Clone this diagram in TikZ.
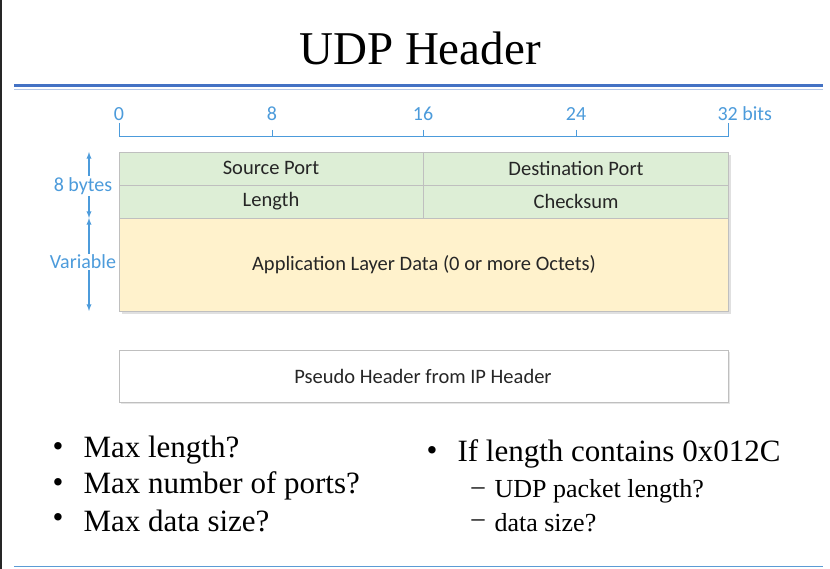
\documentclass[tikz,border=0pt]{standalone}
\usepackage{fontspec}
\setmainfont{Liberation Serif}
\newfontfamily\calfont{Carlito}
\colorlet{axc}{blue!45!cyan!80!black!70}
\begin{document}
\begin{tikzpicture}[x=1pt,y=-1pt,
  lbl/.style={font=\calfont\fontsize{20.5}{24}\selectfont,text=black!85},
  ax/.style={font=\calfont\fontsize{20}{24}\selectfont,text=axc},
  fld/.style={draw=black!25,line width=0.8pt},
  arr/.style={draw=axc,line width=1.3pt},
  bul/.style={font=\fontsize{31}{36}\selectfont,anchor=west},
  sub/.style={font=\fontsize{26}{30}\selectfont,anchor=west}]
\useasboundingbox (0,0) rectangle (830,569);
\fill[white] (0,0) rectangle (830,569);
\draw[black!85,line width=2pt] (1,0) -- (1,569);
\node[font=\fontsize{47}{54}\selectfont] (title) at (420,48) {UDP Header};
\draw[color={rgb,255:red,68;green,114;blue,196},line width=3pt] (14,86) -- (823,86);
\draw[color={rgb,255:red,180;green,199;blue,231},line width=1pt] (14,90) -- (823,90);
\draw[color={rgb,255:red,91;green,155;blue,213},line width=1pt] (14,566) -- (823,566);
% ruler
\draw[axc,line width=1pt] (119,123) -- (119,137) -- (728,137) -- (728,123);
\foreach \x in {272,423,576} \draw[axc,line width=1pt] (\x,130) -- (\x,137);
\node[ax] (t0) at (119,114) {0};
\node[ax] (t8) at (272,114) {8};
\node[ax] (t16) at (423,114) {16};
\node[ax] (t24) at (576,114) {24};
\node[ax,anchor=west] (t32) at (714,114) {32 bits};
% table
\fill[black!12] (122,155) rectangle (731,314);
\fill[fill={rgb,255:red,221;green,238;blue,214}] (119,152) rectangle (728,218);
\fill[fill={rgb,255:red,255;green,242;blue,204}] (119,218) rectangle (728,311);
\draw[fld] (119,152) rectangle (728,311);
\draw[fld] (119,185) -- (728,185) (423,152) -- (423,218) (119,218) -- (728,218);
\node[lbl] (sp) at (271,168) {Source Port};
\node[lbl] (dp) at (576,168) {Destination Port};
\node[lbl] (ln) at (271,201) {Length};
\node[lbl] (cs) at (576,201) {Checksum};
\node[lbl] (ad) at (424,265) {Application Layer Data (0 or more Octets)};
% left arrows
\coordinate (a1) at (89,152); \coordinate (a2) at (89,218); \coordinate (a3) at (89,311);
\draw[arr,latex-latex] (a1) -- (a2);
\draw[arr,latex-latex] (a2) -- (a3);
\node[ax,fill=white,inner sep=1pt] (b8) at (83,186) {8 bytes};
\node[ax,fill=white,inner sep=1pt] (bv) at (83,262) {Variable};
% pseudo
\fill[black!10] (121,352) rectangle (730,404);
\draw[fld,fill=white] (119,350) rectangle (728,402);
\node[lbl] (ph) at (423,376) {Pseudo Header from IP Header};
% bullets
\foreach \y/\t/\n in {450/Max length?/q1,486/Max number of ports?/q2,521/Max data size?/q3}{
  \node[bul,anchor=center] (\n b) at (58,\y) {•};
  \node[bul] (\n) at (80,\y) {\t};}
\node[bul,anchor=center] (r1b) at (432,454) {•};
\node[bul] (r1) at (454,454) {If length contains 0x012C};
\node[sub,anchor=center] (r2b) at (478,491) {–};
\node[sub] (r2) at (491,491) {UDP packet length?};
\node[sub,anchor=center] (r3b) at (478,523) {–};
\node[sub] (r3) at (491,523) {data size?};
\end{tikzpicture}
\end{document}
